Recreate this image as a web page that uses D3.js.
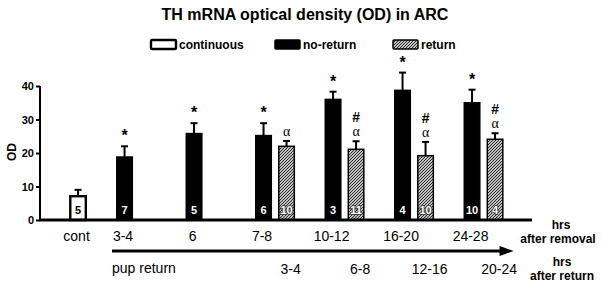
<!DOCTYPE html>
<html lang="en">
  <head>
    <meta charset="UTF-8" />
    <title>TH mRNA optical density (OD) in ARC</title>
    <style>
      body { margin: 0; background: #fff; }
      text { font-family: "Liberation Sans", Arial, sans-serif; }
    </style>
  </head>
  <body>
    <svg id="container" width="602" height="286"></svg>
  </body>
  <script src="https://cdn.jsdelivr.net/npm/d3@7"></script>
  <script>
    // groups along the x axis (hrs after removal)
    let groups = ["cont", "3-4", "6", "7-8", "10-12", "16-20", "24-28"];
    // hrs after return, under the return bars
    let returnLabels = ["", "", "", "3-4", "6-8", "12-16", "20-24"];

    let continuous = [7.1, null, null, null, null, null, null];
    let continuousErr = [1.9, null, null, null, null, null, null];
    let continuousN = [5, null, null, null, null, null, null];

    let noReturn = [null, 18.8, 25.8, 25.2, 36.0, 38.7, 35.0];
    let noReturnErr = [null, 3.2, 3.1, 3.7, 2.3, 5.3, 3.9];
    let noReturnN = [null, 7, 5, 6, 3, 4, 10];
    let noReturnMarks = [null, ["*"], ["*"], ["*"], ["*"], ["*"], ["*"]];

    let returned = [null, null, null, 22.0, 21.1, 19.2, 24.1];
    let returnedErr = [null, null, null, 1.6, 2.4, 4.1, 1.8];
    let returnedN = [null, null, null, 10, 11, 10, 4];
    let returnedMarks = [null, null, null, ["α"], ["α", "#"], ["α", "#"], ["α", "#"]];

    let yTicks = [0, 10, 20, 30, 40];

    let svg = d3.select("#container");

    // hatch pattern for the return bars
    let pat = svg.append("defs").append("pattern")
      .attr("id", "hatch").attr("patternUnits", "userSpaceOnUse")
      .attr("width", 3).attr("height", 3);
    pat.append("rect").attr("width", 3).attr("height", 3).attr("fill", "white");
    pat.append("path").attr("d", "M-1,1 l2,-2 M0,3 l3,-3 M2,4 l2,-2")
      .attr("stroke", "#222").attr("stroke-width", 1.1);

    let x0 = d3.scaleBand().domain(groups).range([31.8, 518.3]);
    let x1 = d3.scaleBand().domain(["no-return", "return"]).range([0, x0.bandwidth()])
      .paddingInner(0.26).paddingOuter(0.64);
    let y = d3.scaleLinear().domain([0, 40]).range([220, 86]);

    // all bars in one list
    let bars = [];
    groups.forEach((g, i) => {
      if (continuous[i] != null) bars.push({ g, slot: "return", kind: "continuous", v: continuous[i], e: continuousErr[i], n: continuousN[i], marks: [] });
      if (noReturn[i] != null) bars.push({ g, slot: "no-return", kind: "no-return", v: noReturn[i], e: noReturnErr[i], n: noReturnN[i], marks: noReturnMarks[i] });
      if (returned[i] != null) bars.push({ g, slot: "return", kind: "return", v: returned[i], e: returnedErr[i], n: returnedN[i], marks: returnedMarks[i] });
    });
    let bx = d => x0(d.g) + x1(d.slot);
    let bw = x1.bandwidth();
    let cx = d => bx(d) + bw / 2;

    // title
    svg.append("text").attr("x", 305).attr("y", 20).attr("text-anchor", "middle")
      .attr("font-size", 16).attr("font-weight", "bold").text("TH mRNA optical density (OD) in ARC");

    // legend
    let legend = [
      { label: "continuous", kind: "continuous", x: 151 },
      { label: "no-return", kind: "no-return", x: 275 },
      { label: "return", kind: "return", x: 393 }
    ];
    let fillOf = k => k === "continuous" ? "white" : k === "no-return" ? "black" : "url(#hatch)";
    let lg = svg.append("g").selectAll("g").data(legend).enter().append("g")
      .attr("transform", d => `translate(${d.x},40)`);
    lg.append("rect").attr("width", 25).attr("height", 9).attr("rx", 1)
      .attr("fill", d => fillOf(d.kind)).attr("stroke", "black")
      .attr("stroke-width", d => d.kind === "continuous" ? 2.4 : 1.5);
    lg.append("text").attr("x", 28).attr("y", 9).attr("font-size", 12).attr("font-weight", "bold")
      .text(d => d.label);

    // y axis
    let yAxis = svg.append("g").attr("transform", "translate(40,0)")
      .call(d3.axisLeft(y).tickValues(yTicks).tickSize(4).tickPadding(2));
    yAxis.select(".domain").attr("stroke-width", 2).attr("d", `M0,${y(40)}V${y(0)}`);
    yAxis.selectAll(".tick line").attr("stroke-width", 2);
    yAxis.selectAll(".tick text").attr("font-size", 11).attr("font-weight", "bold")
      .attr("font-family", "Liberation Sans, Arial, sans-serif").attr("fill", "black");
    svg.append("text").attr("transform", "translate(16,152) rotate(-90)").attr("text-anchor", "middle")
      .attr("font-size", 12).attr("font-weight", "bold").text("OD");

    // error bars (upper only)
    let eb = svg.append("g").selectAll("g").data(bars).enter().append("g");
    eb.append("line").attr("x1", cx).attr("x2", cx).attr("y1", d => y(d.v)).attr("y2", d => y(d.v + d.e))
      .attr("stroke", "black").attr("stroke-width", 2);
    eb.append("line").attr("x1", d => cx(d) - 3.5).attr("x2", d => cx(d) + 3.5)
      .attr("y1", d => y(d.v + d.e)).attr("y2", d => y(d.v + d.e))
      .attr("stroke", "black").attr("stroke-width", 2);

    // bars
    svg.append("g").selectAll("rect").data(bars).enter().append("rect")
      .attr("x", d => bx(d) + 0.75).attr("width", bw - 1.5)
      .attr("y", d => y(d.v)).attr("height", d => y(0) - y(d.v))
      .attr("fill", d => fillOf(d.kind)).attr("stroke", "black")
      .attr("stroke-width", d => d.kind === "continuous" ? 2.4 : 1.5);

    // n inside bars
    svg.append("g").selectAll("text").data(bars).enter().append("text")
      .attr("x", cx).attr("y", 214).attr("text-anchor", "middle")
      .attr("font-size", 11).attr("font-weight", "bold")
      .attr("fill", d => d.kind === "continuous" ? "black" : "white")
      .attr("stroke", d => d.kind === "return" ? "#333" : "none").attr("stroke-width", 1.6)
      .attr("paint-order", "stroke")
      .text(d => d.n);

    // significance marks above the error bars
    let marks = [];
    bars.forEach(d => d.marks.forEach((m, j) => marks.push({ bar: d, m, j })));
    svg.append("g").selectAll("text").data(marks).enter().append("text")
      .attr("x", d => cx(d.bar)).attr("text-anchor", "middle")
      .attr("y", d => y(d.bar.v + d.bar.e) - (d.m === "*" ? 5 : 5 + d.j * 14))
      .attr("font-size", d => d.m === "*" ? 16 : 14)
      .attr("font-weight", d => d.m === "α" ? "normal" : "bold")
      .style("font-family", d => d.m === "α" ? "Liberation Serif, serif" : null)
      .text(d => d.m);

    // x axis line
    svg.append("line").attr("x1", 40).attr("x2", 532).attr("y1", y(0)).attr("y2", y(0))
      .attr("stroke", "black").attr("stroke-width", 3);

    // hrs after removal labels
    svg.append("g").selectAll("text").data(groups).enter().append("text")
      .attr("x", g => x0(g) + x1(g === "cont" ? "return" : "no-return") + bw / 2 - 1.5)
      .attr("y", 241).attr("text-anchor", "middle").attr("font-size", 14)
      .text(g => g);

    // arrow + hrs after return labels
    let arrowStart = x0("3-4") + x1("no-return") - 4;
    let arrowEnd = x0("24-28") + x1("return") + bw + 10;
    svg.append("line").attr("x1", arrowStart).attr("x2", arrowEnd - 12).attr("y1", 251).attr("y2", 251)
      .attr("stroke", "black").attr("stroke-width", 3);
    svg.append("path").attr("d", `M${arrowEnd},251 L${arrowEnd - 14},246 L${arrowEnd - 14},256 Z`).attr("fill", "black");
    svg.append("text").attr("x", arrowStart).attr("y", 273).attr("font-size", 14).text("pup return");
    svg.append("g").selectAll("text").data(groups.map((g, i) => ({ g, t: returnLabels[i] })).filter(d => d.t))
      .enter().append("text")
      .attr("x", d => x0(d.g) + x1("return") + bw / 2 + 4)
      .attr("y", 274).attr("text-anchor", "middle").attr("font-size", 14)
      .text(d => d.t);

    // right-hand axis notes
    let notes = [
      { t: "hrs", x: 561, y: 229 }, { t: "after removal", x: 558, y: 243 },
      { t: "hrs", x: 562, y: 266 }, { t: "after return", x: 562, y: 280 }
    ];
    svg.append("g").selectAll("text").data(notes).enter().append("text")
      .attr("x", d => d.x).attr("y", d => d.y).attr("text-anchor", "middle")
      .attr("font-size", 12).attr("font-weight", "bold").text(d => d.t);
  </script>
</html>
